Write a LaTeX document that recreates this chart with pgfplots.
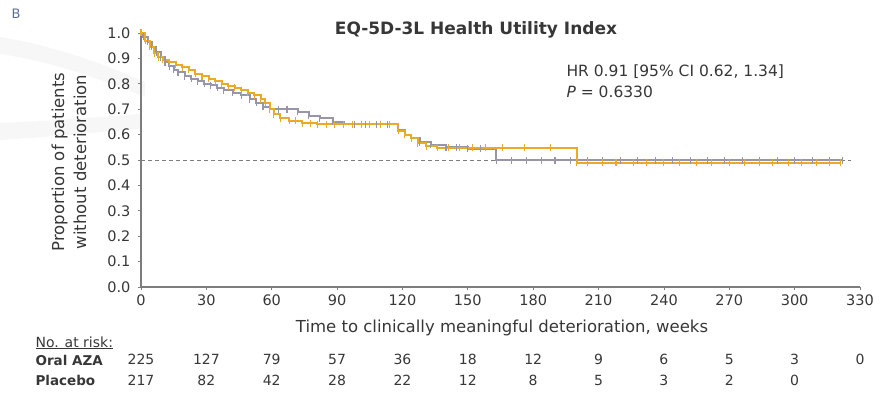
\documentclass[border=0pt]{standalone}
\usepackage{fontspec}
\setmainfont{DejaVu Sans}
\usepackage{pgfplots}
\usepackage{pgfplotstable}
\pgfplotsset{compat=1.18}

\definecolor{aza}{RGB}{234,170,40}
\definecolor{plc}{RGB}{150,150,168}
\definecolor{axgray}{RGB}{125,125,125}
\definecolor{txt}{RGB}{55,55,55}
\definecolor{panel}{RGB}{90,110,160}

% Kaplan-Meier estimates (weeks, proportion without deterioration)
\pgfplotstableread{
t S
0 1.000
2 0.970
4 0.945
6 0.920
8 0.905
10 0.895
13 0.885
16 0.875
19 0.865
22 0.855
25 0.840
28 0.830
31 0.820
34 0.810
37 0.800
40 0.790
43 0.785
46 0.775
49 0.765
52 0.755
55 0.740
57 0.725
59 0.700
61 0.680
64 0.665
68 0.655
71 0.655
74 0.645
78 0.645
81 0.640
85 0.640
89 0.640
93 0.640
97 0.640
101 0.640
105 0.640
110 0.640
114 0.640
118 0.615
121 0.600
124 0.585
127 0.565
131 0.555
136 0.548
141 0.548
146 0.548
152 0.548
158 0.548
166 0.548
176 0.548
188 0.548
200 0.490
205 0.490
212 0.490
218 0.490
226 0.490
232 0.490
240 0.490
247 0.490
255 0.490
262 0.490
270 0.490
277 0.490
284 0.490
290 0.490
297 0.490
303 0.490
310 0.490
316 0.490
321 0.490
}\oralaza

\pgfplotstableread{
t S
0 1.000
1 0.985
3 0.965
5 0.945
7 0.925
9 0.905
11 0.885
13 0.870
15 0.855
17 0.845
20 0.830
23 0.820
26 0.810
29 0.800
32 0.795
35 0.785
38 0.775
42 0.765
46 0.755
50 0.740
53 0.725
56 0.710
59 0.700
63 0.700
67 0.700
72 0.690
77 0.675
82 0.665
88 0.650
93 0.640
98 0.640
103 0.640
108 0.640
113 0.640
118 0.620
121 0.600
124 0.585
128 0.570
133 0.560
140 0.550
145 0.550
150 0.545
156 0.545
163 0.500
170 0.500
177 0.500
184 0.500
190 0.500
197 0.500
205 0.500
212 0.500
220 0.500
228 0.500
236 0.500
244 0.500
252 0.500
260 0.500
268 0.500
276 0.500
284 0.500
292 0.500
300 0.500
308 0.500
316 0.500
322 0.500
}\placebo

\begin{document}
\begin{tikzpicture}[x=1pt,y=1pt]
\useasboundingbox (0,0) rectangle (884,397);

% faint decorative bands at the left margin
\fill[gray!6] (0,360) .. controls (50,352) and (100,335) .. (145,315) -- (145,300) .. controls (100,318) and (50,336) .. (0,343) -- cycle;
\fill[gray!6] (0,274) .. controls (50,276) and (100,280) .. (140,283) -- (140,268) .. controls (100,265) and (50,260) .. (0,257) -- cycle;

\node[anchor=west, text=panel, font=\fontsize{13}{15}\selectfont] at (8,383) {B};

\begin{axis}[
  at={(141pt,110pt)}, anchor=south west,
  scale only axis, width=719pt, height=254pt,
  xmin=0, xmax=330, ymin=0, ymax=1,
  axis lines*=left,
  axis line style={axgray, line width=1.4pt},
  xtick={0,30,...,330},
  ytick={0,0.1,...,1.0},
  yticklabel style={/pgf/number format/fixed, /pgf/number format/fixed zerofill, /pgf/number format/precision=1},
  /pgf/number format/assume math mode=true,
  tick align=outside,
  major tick length=3pt,
  tick style={axgray, line width=0.8pt},
  ticklabel style={text=txt, font=\fontsize{14.5}{16}\selectfont},
  xticklabel style={yshift=-1pt},
  yticklabel style={xshift=-4pt},
  clip=false,
]
\addplot[dashed, axgray, line width=0.9pt, dash pattern=on 4pt off 3pt] coordinates {(0,0.5) (326,0.5)};

\addplot[const plot, plc, line width=2pt, mark=|, mark size=3.5pt,
  mark options={solid, line width=1.1pt}] table[x=t, y=S] {\placebo};
\addplot[const plot, aza, line width=2pt, mark=|, mark size=3.5pt,
  mark options={solid, line width=1.1pt}] table[x=t, y=S] {\oralaza};

% numbers at risk, set on a common baseline per row
\foreach \t/\n in {0/225,30/127,60/79,90/57,120/36,150/18,180/12,210/9,240/6,270/5,300/3,330/0}{
  \edef\tmp{\noexpand\node[anchor=base, text=txt, font=\noexpand\fontsize{14}{16}\noexpand\selectfont] at (axis cs:\t,-0.307) {\n};}\tmp
}
\foreach \t/\n in {0/217,30/82,60/42,90/28,120/22,150/12,180/8,210/5,240/3,270/2,300/0}{
  \edef\tmp{\noexpand\node[anchor=base, text=txt, font=\noexpand\fontsize{14}{16}\noexpand\selectfont] at (axis cs:\t,-0.386) {\n};}\tmp
}
\end{axis}

\node[text=txt, font=\bfseries\fontsize{17}{19}\selectfont] at (476,367) {EQ-5D-3L Health Utility Index};
\node[anchor=west, text=txt, font=\fontsize{15.5}{17}\selectfont] at (563,325) {HR 0.91 [95\% CI 0.62, 1.34]};
\node[anchor=west, text=txt, font=\fontsize{15.5}{17}\selectfont] at (563,305) {\textit{P} = 0.6330};

\node[rotate=90, text=txt, align=center, font=\fontsize{16.5}{22}\selectfont] at (69,235) {Proportion of patients\\without deterioration};
\node[text=txt, font=\fontsize{16.5}{19}\selectfont] at (502,69) {Time to clinically meaningful deterioration, weeks};

\node[anchor=base west, text=txt, font=\fontsize{14}{16}\selectfont] at (32,50) {\underline{No. at risk:}};
\node[anchor=base west, text=txt, font=\bfseries\fontsize{13.5}{16}\selectfont] at (32,32) {Oral AZA};
\node[anchor=base west, text=txt, font=\bfseries\fontsize{13.5}{16}\selectfont] at (32,12) {Placebo};
\end{tikzpicture}
\end{document}
